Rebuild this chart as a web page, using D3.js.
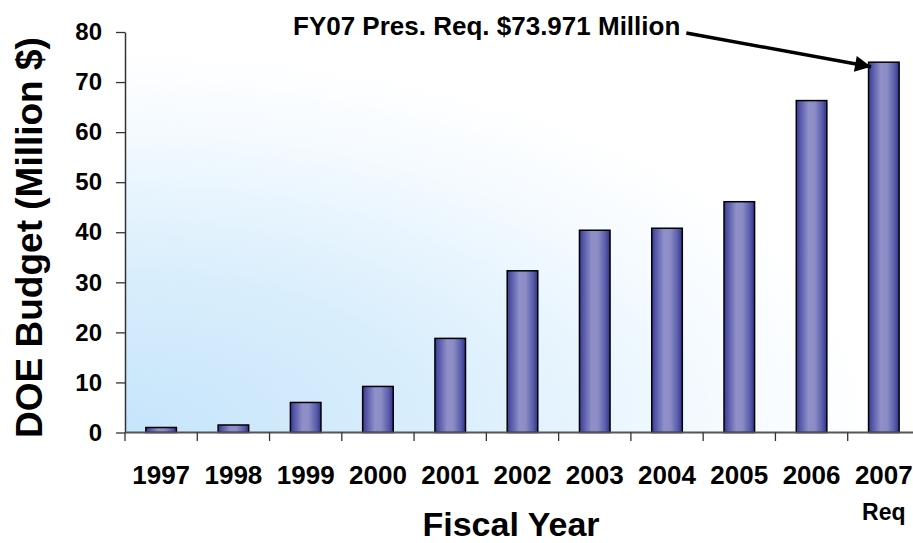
<!DOCTYPE html>
<html>
<head>
<meta charset="utf-8">
<script src="https://cdn.jsdelivr.net/npm/d3@7"></script>
<style>
  html, body { margin: 0; padding: 0; background: #ffffff; overflow: hidden; }
  svg { display: block; font-family: "Liberation Sans", Arial, Helvetica, sans-serif; font-weight: bold; }
</style>
</head>
<body>
<svg id="chart" width="913" height="543"></svg>
<script>
// ---- data ----
const categories = ["1997", "1998", "1999", "2000", "2001", "2002", "2003", "2004", "2005", "2006", "2007"];
const budget = [1.0, 1.5, 6.0, 9.2, 18.8, 32.3, 40.4, 40.8, 46.1, 66.3, 73.971];
const yTicks = [0, 10, 20, 30, 40, 50, 60, 70, 80];
const yTitle = "DOE Budget (Million $)";
const xTitle = "Fiscal Year";
const lastNote = "Req";
const annotation = "FY07 Pres. Req. $73.971 Million";

// ---- layout ----
const svg = d3.select("#chart");
const plotLeft = 125, plotTop = 32, plotBottom = 432.5;
const step = 72.27;
const plotRight = plotLeft + step * categories.length;

const x = d3.scaleBand().domain(categories).range([plotLeft, plotRight]).paddingInner(0.577).paddingOuter(0.2885);
const y = d3.scaleLinear().domain([0, 80]).range([plotBottom, plotTop]);

const defs = svg.append("defs");
const bg = defs.append("radialGradient").attr("id", "bg")
  .attr("cx", 0).attr("cy", 1).attr("r", 1).attr("fx", 0).attr("fy", 1);
bg.append("stop").attr("offset", "0").attr("stop-color", "#c6e5fb");
bg.append("stop").attr("offset", "0.4").attr("stop-color", "#d9eefc");
bg.append("stop").attr("offset", "0.75").attr("stop-color", "#f4faff");
bg.append("stop").attr("offset", "0.95").attr("stop-color", "#ffffff");

const barG = defs.append("linearGradient").attr("id", "bar").attr("x1", 0).attr("x2", 1).attr("y1", 0).attr("y2", 0);
[["0", "#35388f"], ["0.12", "#5456a8"], ["0.4", "#8f90c8"], ["0.6", "#8c8dc6"], ["0.85", "#5a5cab"], ["1", "#2f3188"]]
  .forEach(([o, c]) => barG.append("stop").attr("offset", o).attr("stop-color", c));

const marker = defs.append("marker").attr("id", "arrow")
  .attr("viewBox", "0 0 10 10").attr("refX", 10).attr("refY", 5)
  .attr("markerUnits", "userSpaceOnUse").attr("markerWidth", 20).attr("markerHeight", 16)
  .attr("orient", "auto");
marker.append("path").attr("d", "M0,0 L10,5 L0,10 Z").attr("fill", "#000");

// plot background
svg.append("rect").attr("x", plotLeft).attr("y", plotTop).attr("width", 913 - plotLeft).attr("height", plotBottom - plotTop)
  .attr("fill", "url(#bg)");

// bars
svg.append("g").selectAll("rect").data(categories).join("rect")
  .attr("x", d => x(d))
  .attr("y", (d, i) => y(budget[i]))
  .attr("width", x.bandwidth())
  .attr("height", (d, i) => y(0) - y(budget[i]))
  .attr("fill", "url(#bar)")
  .attr("stroke", "#000").attr("stroke-width", 1.5);

// y axis
const yAxis = svg.append("g").attr("transform", `translate(${plotLeft},0)`)
  .call(d3.axisLeft(y).tickValues(yTicks).tickSize(9).tickPadding(14).tickSizeOuter(0));
yAxis.select(".domain").attr("stroke", "#333").attr("stroke-width", 1.5);
yAxis.selectAll(".tick line").attr("stroke", "#333").attr("stroke-width", 1.3);
yAxis.selectAll("text").attr("font-size", 24).attr("font-weight", "bold").attr("fill", "#000")
  .attr("font-family", "'Liberation Sans', Arial, sans-serif");

// x axis
const xAxis = svg.append("g").attr("transform", `translate(0,${plotBottom})`)
  .call(d3.axisBottom(x).tickSize(0).tickPadding(33).tickSizeOuter(0));
xAxis.select(".domain").attr("stroke", "#555").attr("stroke-width", 2)
  .attr("d", `M${plotLeft},0H913`);
xAxis.selectAll("text").attr("font-size", 26).attr("font-weight", "bold").attr("fill", "#000")
  .attr("font-family", "'Liberation Sans', Arial, sans-serif");
// boundary ticks between categories
xAxis.selectAll(".bound").data(d3.range(categories.length)).join("line")
  .attr("class", "bound")
  .attr("x1", i => plotLeft + i * x.step()).attr("x2", i => plotLeft + i * x.step())
  .attr("y1", 0).attr("y2", 8.5)
  .attr("stroke", "#333").attr("stroke-width", 1.3);

// "Req" under last category
const lastCat = categories[categories.length - 1];
svg.append("text").attr("x", x(lastCat) + x.bandwidth() / 2).attr("y", 520)
  .attr("text-anchor", "middle").attr("font-size", 23).text(lastNote);

// axis titles
svg.append("text").attr("x", 511).attr("y", 536).attr("text-anchor", "middle")
  .attr("font-size", 34).text(xTitle);
svg.append("text").attr("transform", "translate(41.5,237.5) rotate(-90)").attr("text-anchor", "middle")
  .attr("font-size", 37).text(yTitle);

// annotation
const ann = svg.append("text").attr("x", 293).attr("y", 35).attr("font-size", 26).text(annotation);
const annEnd = 293 + ann.node().getComputedTextLength();
const lastVal = budget[budget.length - 1];
svg.append("line")
  .attr("x1", annEnd + 6).attr("y1", 33)
  .attr("x2", x(lastCat) + 2.5).attr("y2", y(lastVal) + 4.5)
  .attr("stroke", "#000").attr("stroke-width", 3.5)
  .attr("marker-end", "url(#arrow)");
</script>
</body>
</html>
